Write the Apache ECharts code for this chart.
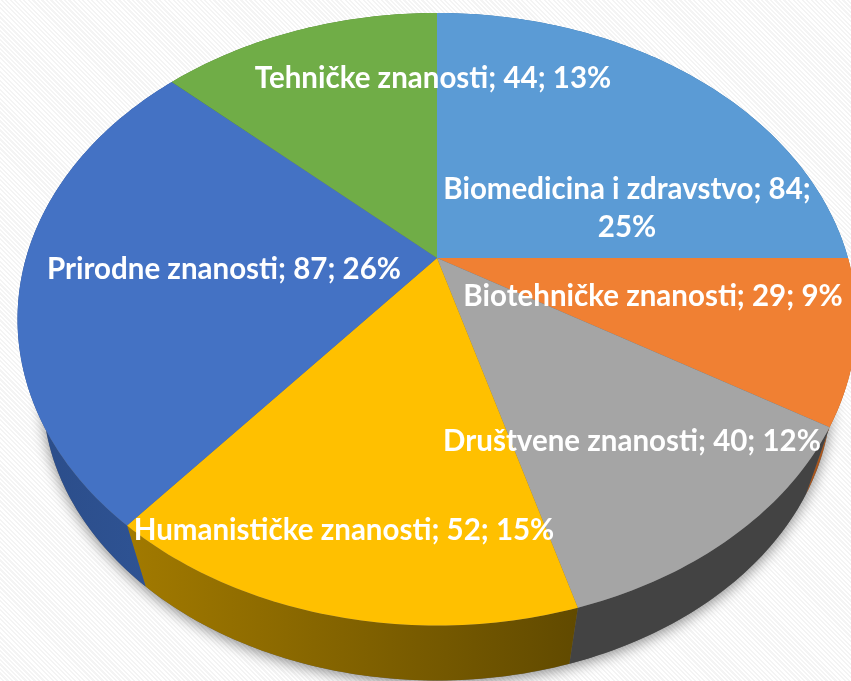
<!DOCTYPE html>
<html>
<head>
<meta charset="utf-8">
<style>
  html, body { margin: 0; height: 100%; overflow: hidden; }
  body { background: repeating-linear-gradient(45deg, #ffffff 0, #ffffff 1.6px, #f4f4f4 1.6px, #f4f4f4 3.2px); }
  #main { width: 851px; height: 681px; }
</style>
</head>
<body>
<div id="main"></div>
<script src="https://cdn.jsdelivr.net/npm/echarts@6/dist/echarts.min.js"></script>
<script>
const categories = ["Biomedicina i zdravstvo", "Biotehničke znanosti", "Društvene znanosti", "Humanističke znanosti", "Prirodne znanosti", "Tehničke znanosti"];
const values = [84, 29, 40, 52, 87, 44];

const topColors = ["#5b9bd5", "#f08033", "#a5a5a5", "#ffc000", "#4472c4", "#70ad47"];
const sideColors = ["#2f6da5", "#a9561d", "#434343", ["#a27a00", "#614a00"], ["#2b4c88", "#2f5597"], "#4a7a2e"];
// label centres, px
const labelPos = [[627, 208], [653, 296], [632, 441], [344, 530], [224, 269], [433, 78]];

const total = values.reduce((a, b) => a + b, 0);
const starts = [];
values.reduce((sum, v, i) => { starts[i] = sum; return sum + v; }, 0);

// tilted disc with perspective: the near edge is bigger than the far one
const cx = 437, cy = 258, rx = 411, ry = 294, tilt = 0.2;
const depthY = 77, depthScale = 0.94;

function project(theta, lower) {
  const u = Math.sin(theta), v = -Math.cos(theta), w = 1 - tilt * v;
  const x = rx * u / w, y = ry * v / w;
  return lower
    ? [cx + x * depthScale, cy + depthY + y * depthScale]
    : [cx + x, cy + y];
}

function arc(a0, a1, lower) {
  const pts = [], n = Math.max(8, Math.ceil((a1 - a0) * 60));
  for (let i = 0; i <= n; i++) pts.push(project(a0 + (a1 - a0) * i / n, lower));
  return pts;
}

function angles(i, value) {
  const a0 = starts[i] / total * Math.PI * 2;
  return [a0, a0 + value / total * Math.PI * 2];
}

function fill(c) {
  if (!Array.isArray(c)) return c;
  return new echarts.graphic.LinearGradient(0, 0, 1, 0, [
    { offset: 0, color: c[0] },
    { offset: 1, color: c[1] }
  ]);
}

function renderSide(params, api) {
  const i = params.dataIndex;
  const [a0, a1] = angles(i, api.value(0));
  return {
    type: "polygon",
    shape: { points: arc(a0, a1, false).concat(arc(a0, a1, true).reverse()) },
    style: { fill: fill(sideColors[i]) }
  };
}

function renderTop(params, api) {
  const i = params.dataIndex;
  const [a0, a1] = angles(i, api.value(0));
  return {
    type: "polygon",
    shape: { points: [[cx, cy]].concat(arc(a0, a1, false)) },
    style: { fill: topColors[i] }
  };
}

function renderLabel(params, api) {
  const i = params.dataIndex;
  const v = api.value(0);
  const pct = Math.round(v / total * 100) + "%";
  const head = categories[i] + "; " + v + ";";
  return {
    type: "text",
    x: labelPos[i][0],
    y: labelPos[i][1],
    style: {
      text: i === 0 ? head + "\n" + pct : head + " " + pct,
      fill: "#ffffff",
      font: "bold 29.5px Lato, sans-serif",
      lineHeight: 38,
      align: "center",
      verticalAlign: "middle"
    }
  };
}

const chart = echarts.init(document.getElementById("main"));
chart.setOption({
  animation: false,
  backgroundColor: "transparent",
  graphic: {
    elements: [{
      type: "polygon",
      z: 0,
      shape: { points: arc(0, Math.PI * 2, true) },
      style: { fill: "#666666", shadowColor: "rgba(0,0,0,0.45)", shadowBlur: 14, shadowOffsetY: 3 }
    }]
  },
  series: [
    { type: "custom", coordinateSystem: "none", z: 2, clip: false, renderItem: renderSide, data: values },
    { type: "custom", coordinateSystem: "none", z: 3, clip: false, renderItem: renderTop, data: values },
    { type: "custom", coordinateSystem: "none", z: 4, clip: false, renderItem: renderLabel, data: values }
  ]
});
</script>
</body>
</html>
